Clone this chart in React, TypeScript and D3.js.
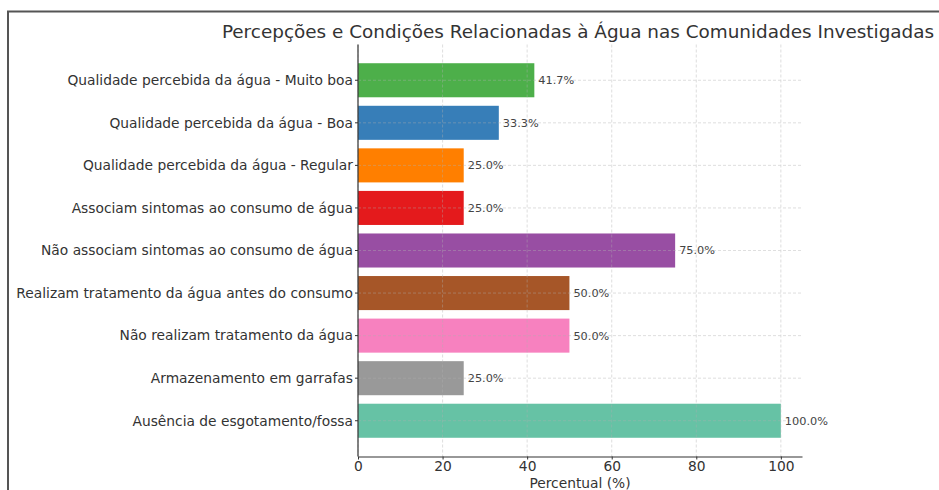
import React, { useEffect, useRef } from "react";
import * as d3 from "d3";

const categories = [
  "Qualidade percebida da água - Muito boa",
  "Qualidade percebida da água - Boa",
  "Qualidade percebida da água - Regular",
  "Associam sintomas ao consumo de água",
  "Não associam sintomas ao consumo de água",
  "Realizam tratamento da água antes do consumo",
  "Não realizam tratamento da água",
  "Armazenamento em garrafas",
  "Ausência de esgotamento/fossa",
];
const values = [41.7, 33.3, 25.0, 25.0, 75.0, 50.0, 50.0, 25.0, 100.0];
const colors = [
  "#4daf4a",
  "#377eb8",
  "#ff7f00",
  "#e41a1c",
  "#984ea3",
  "#a65628",
  "#f781bf",
  "#999999",
  "#66c2a5",
];
const xTicks = [0, 20, 40, 60, 80, 100];

const App = () => {
  const ref = useRef<SVGSVGElement>(null);

  function draw() {
    const svg = d3.select(ref.current);
    svg.selectAll("*").remove();
    const width = 939;
    const height = 490;
    const left = 358;
    const right = 802;
    const top = 44.5;
    const bottom = 456.5;
    const font = "'DejaVu Sans', sans-serif";
    const text = "#333";

    const x = d3.scaleLinear().domain([0, 105]).range([left, right]);
    const n = categories.length;
    // matplotlib style limits: bars from -0.4..n-0.6 with 5% padding
    const pad = (n - 1 + 0.8) * 0.05;
    const y = d3
      .scaleLinear()
      .domain([-0.4 - pad, n - 0.6 + pad])
      .range([top, bottom]);
    const bh = y(0.4) - y(-0.4);

    svg.attr("width", width).attr("height", height);

    // outer frame
    svg
      .append("path")
      .attr("d", `M8,${height} L8,11.5 L${width},11.5`)
      .attr("fill", "none")
      .attr("stroke", "#555")
      .attr("stroke-width", 2);

    svg
      .append("g")
      .selectAll("rect")
      .data(values)
      .join("rect")
      .attr("x", x(0))
      .attr("y", (_, i) => y(i) - bh / 2)
      .attr("width", (d) => x(d) - x(0))
      .attr("height", bh)
      .attr("fill", (_, i) => colors[i]);

    // grid on top
    const grid = svg
      .append("g")
      .attr("stroke", "#b0b0b0")
      .attr("stroke-width", 0.8)
      .attr("stroke-dasharray", "3,2")
      .attr("opacity", 0.5);
    grid
      .selectAll("line.v")
      .data(xTicks)
      .join("line")
      .attr("x1", (d) => x(d))
      .attr("x2", (d) => x(d))
      .attr("y1", top)
      .attr("y2", bottom);
    grid
      .selectAll("line.h")
      .data(categories)
      .join("line")
      .attr("x1", left)
      .attr("x2", right)
      .attr("y1", (_, i) => y(i))
      .attr("y2", (_, i) => y(i));

    // value labels
    svg
      .append("g")
      .selectAll("text")
      .data(values)
      .join("text")
      .attr("x", (d) => x(d) + 4)
      .attr("y", (_, i) => y(i))
      .attr("dy", "0.35em")
      .attr("font-family", font)
      .attr("font-size", 11.3)
      .attr("fill", "#444")
      .text((d) => d.toFixed(1) + "%");

    // x axis
    svg
      .append("g")
      .attr("transform", `translate(0,${bottom})`)
      .call(d3.axisBottom(x).tickValues(xTicks).tickSize(3).tickPadding(2).tickSizeOuter(0))
      .call((g) => g.select(".domain").attr("stroke", "#333").attr("stroke-width", 1.2))
      .call((g) => g.selectAll(".tick line").attr("stroke", "#333"))
      .call((g) =>
        g
          .selectAll(".tick text")
          .attr("font-family", font)
          .attr("font-size", 13.8)
          .attr("fill", text)
      );

    // y axis
    const yAxis = svg.append("g").attr("transform", `translate(${left},0)`);
    yAxis
      .append("line")
      .attr("y1", top)
      .attr("y2", bottom)
      .attr("stroke", "#333")
      .attr("stroke-width", 1.2);
    const yt = yAxis
      .selectAll("g.tick")
      .data(categories)
      .join("g")
      .attr("transform", (_, i) => `translate(0,${y(i)})`);
    yt.append("line").attr("x1", -3).attr("x2", 0).attr("stroke", "#333");
    yt
      .append("text")
      .attr("x", -5)
      .attr("dy", "0.35em")
      .attr("text-anchor", "end")
      .attr("font-family", font)
      .attr("font-size", 13.8)
      .attr("fill", text)
      .text((d) => d);

    svg
      .append("text")
      .attr("x", 578)
      .attr("y", 38)
      .attr("text-anchor", "middle")
      .attr("font-family", font)
      .attr("font-size", 18.4)
      .attr("fill", text)
      .text("Percepções e Condições Relacionadas à Água nas Comunidades Investigadas");

    svg
      .append("text")
      .attr("x", (left + right) / 2)
      .attr("y", 488)
      .attr("text-anchor", "middle")
      .attr("font-family", font)
      .attr("font-size", 13.8)
      .attr("fill", text)
      .text("Percentual (%)");
  }

  useEffect(() => {
    draw();
  }, []);

  return (
    <svg
      ref={ref}
      style={{ position: "absolute", left: 0, top: 0, display: "block" }}
    />
  );
};

export default App;
